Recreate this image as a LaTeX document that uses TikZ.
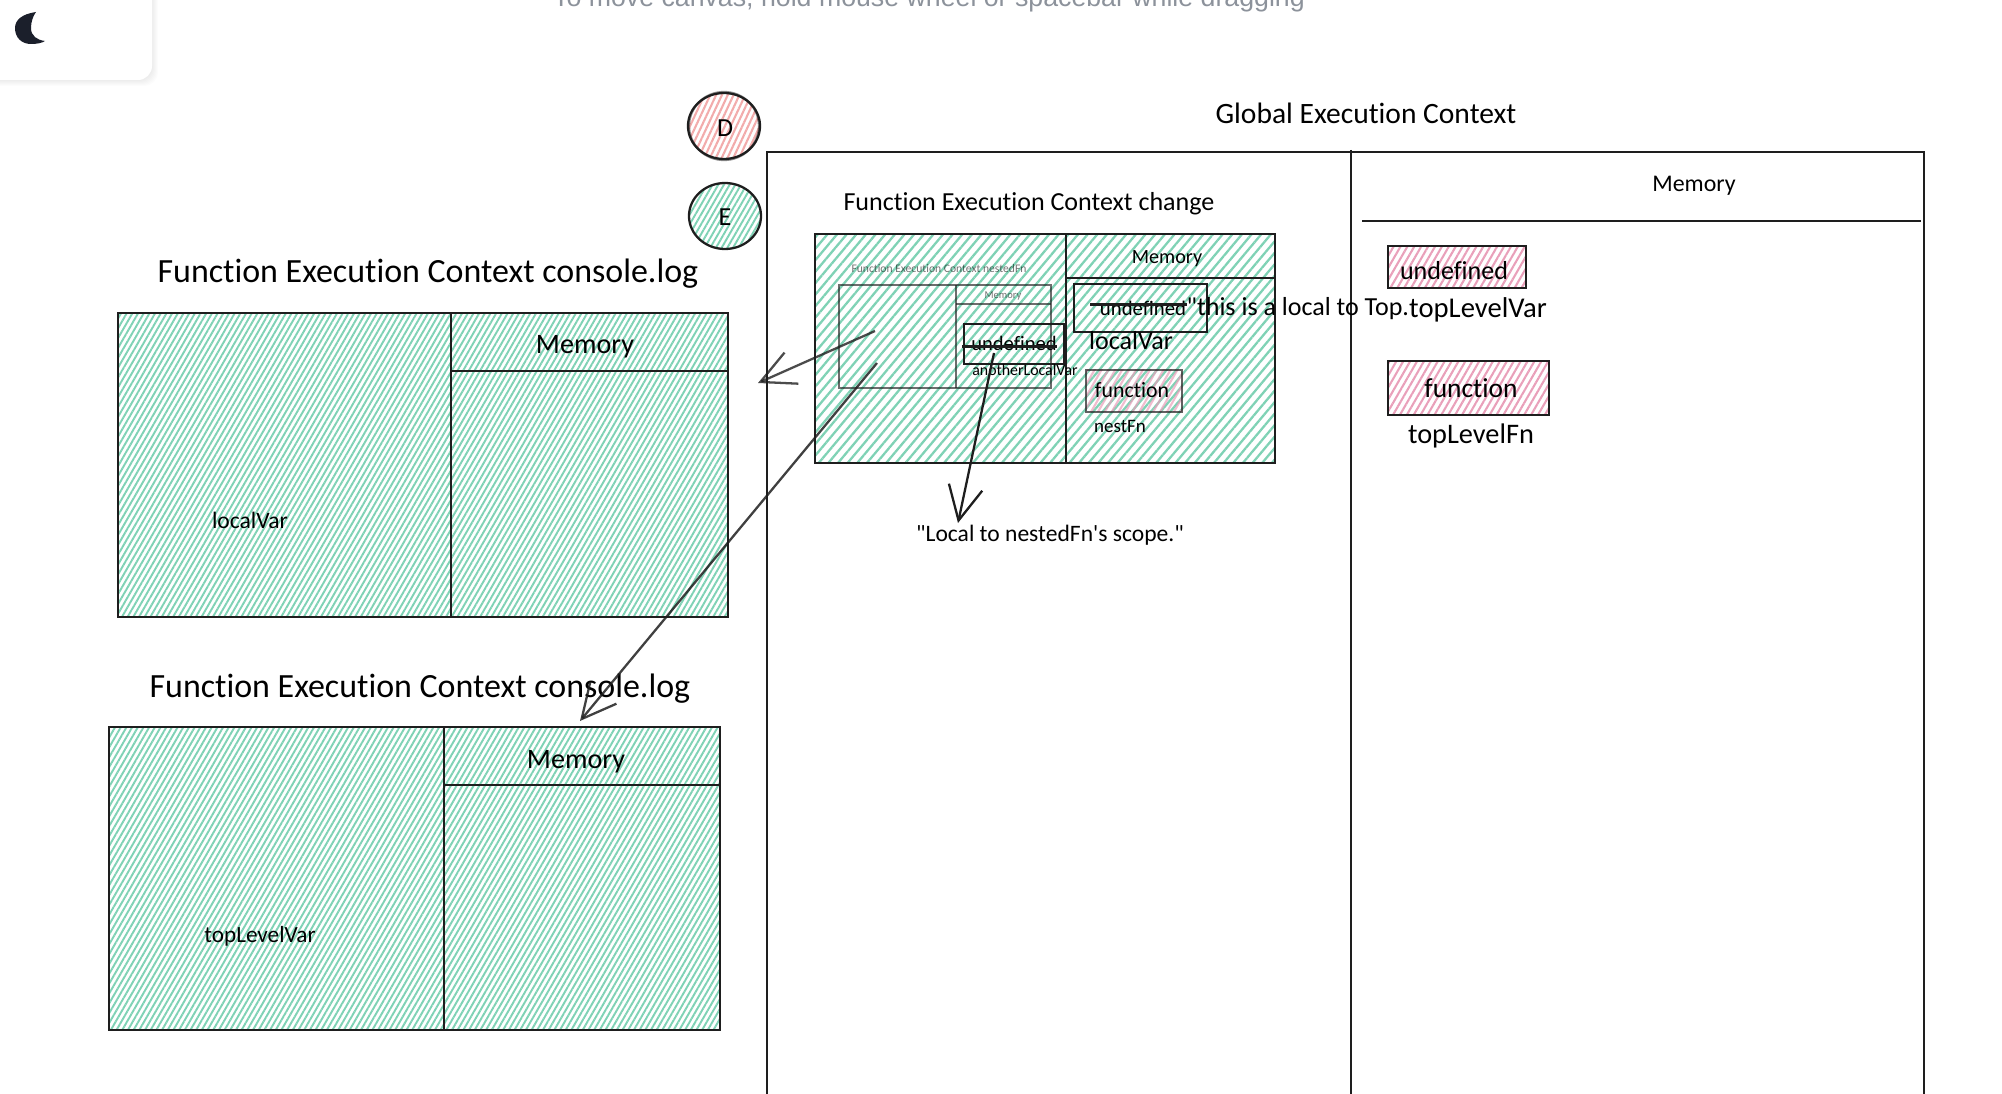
\documentclass[tikz,border=0pt]{standalone}
\usepackage{xcolor}
\usepackage{fontspec}
\setmainfont{Carlito}[Ligatures={TeXOff,NoCommon}]
\newfontfamily\uifont{Liberation Sans}
\usetikzlibrary{patterns.meta,arrows.meta}

\definecolor{mintline}{HTML}{7FD2B5}
\definecolor{pinkline}{HTML}{E9A0BA}
\definecolor{redline}{HTML}{F2ABAB}
\definecolor{inkline}{HTML}{1E1E1E}
\definecolor{moonink}{HTML}{1B1F2B}
\definecolor{hintgray}{HTML}{8C929B}

\newcommand{\handsize}[1]{\fontsize{#1}{9}\selectfont}

\tikzset{
    >={Straight Barb[length=3.4mm,width=3.4mm]},
    ink/.style={draw=inkline,line width=0.65pt},
    minthatch/.style={pattern={Lines[angle=60,distance=1.4pt,line width=0.55pt]},pattern color=mintline},
    widehatch/.style={pattern={Lines[angle=50,distance=2.1pt,line width=0.65pt]},pattern color=mintline},
    pinkhatch/.style={pattern={Lines[angle=60,distance=1.7pt,line width=0.6pt]},pattern color=pinkline},
    redhatch/.style={pattern={Lines[angle=65,distance=1.5pt,line width=0.6pt]},pattern color=redline},
    hand/.style={inner sep=0pt,text=black,font=\handsize{7.4}},
    handbig/.style={hand,font=\handsize{9.65}},
    handsmall/.style={hand,font=\handsize{5.4}},
    handtiny/.style={hand,font=\handsize{3.3},opacity=0.55},
}

\begin{document}
\begin{tikzpicture}[x=0.01cm,y=-0.01cm]

    \useasboundingbox (0,0) rectangle (2002,1094);
    \clip (0,0) rectangle (2002,1094);

    % top bar
    \foreach \s in {1,...,6}
        \fill[black,opacity=0.012,rounded corners=4] (-30,-30) rectangle (152+\s,80+\s);
    \fill[white,rounded corners=4] (-30,-30) rectangle (152,80);
    \fill[moonink] (36,12) .. controls (22,14) and (15,20) .. (15,28) .. controls (15,38) and (22,44) .. (31,44)
        .. controls (37,44) and (42,43) .. (45,41) .. controls (37,40) and (31,36) .. (31,28)
        .. controls (31,22) and (33,16) .. (36,12);
    \node[anchor=base,text=hintgray,inner sep=0pt,font=\uifont\fontsize{7.6}{9}\selectfont] (hint) at (929,7) {To move canvas, hold mouse wheel or spacebar while dragging};

    % legend circles
    \draw[ink,redhatch] (724,126) ellipse (36 and 33);
    \draw[ink,draw opacity=0.5] (724,126) ellipse (35 and 34);
    \node[hand] (circleD) at (725,128) {D};
    \draw[ink,minthatch] (725,216) ellipse (36 and 33);
    \node[hand] (circleE) at (725,217) {E};

    % first console.log context
    \node[handbig] (titleLogA) at (428,274) {Function Execution Context console.log};
    \draw[ink,minthatch] (118,313) rectangle (728,617);
    \draw[ink] (451,313) -- (451,617);
    \draw[ink] (451,371) -- (728,371);
    \node[hand,font=\handsize{8}] (memoryLogA) at (585,347) {Memory};
    \node[hand,font=\handsize{6.7}] (labelLocal) at (250,520) {localVar};

    % second console.log context
    \node[handbig] (titleLogB) at (420,689) {Function Execution Context console.log};
    \draw[ink,minthatch] (109,727) rectangle (720,1030);
    \draw[ink] (444,727) -- (444,1030);
    \draw[ink] (444,785) -- (720,785);
    \node[hand,font=\handsize{8}] (memoryLogB) at (576,762) {Memory};
    \node[hand,font=\handsize{6.6}] (labelTop) at (260,936) {topLevelVar};

    % global context
    \node[hand,font=\handsize{8.4}] (titleGlobal) at (1366,113) {Global Execution Context};
    \draw[ink] (767,1100) -- (767,152) -- (1924,152) -- (1924,1100);
    \draw[ink] (1351,150) -- (1351,1100);
    \draw[ink] (1362,221) -- (1921,221);
    \node[hand,font=\handsize{6.8}] (memoryGlobal) at (1694,186) {Memory};

    \draw[ink,pinkhatch] (1388,246) rectangle (1526,288);
    \node[hand] (valueVar) at (1454,271) {undefined};
    \node[hand,font=\handsize{8.15}] (labelVar) at (1478,310) {topLevelVar};
    \draw[ink,pinkhatch] (1388,361) rectangle (1549,415);
    \node[hand,font=\handsize{7.8}] (valueFn) at (1471,388) {function};
    \node[hand,font=\handsize{8.05}] (labelFn) at (1471,436) {topLevelFn};

    % function context in the middle
    \node[hand] (titleChange) at (1029,204) {Function Execution Context change};
    \draw[ink,widehatch] (815,234) rectangle (1275,463);
    \draw[ink] (1066,234) -- (1066,463);
    \draw[ink] (1066,278) -- (1275,278);
    \node[hand,font=\handsize{5.75}] (memoryChange) at (1167,259) {Memory};

    \draw[ink] (1074,284) rectangle (1207,332);
    \node[hand,font=\handsize{5.9}] (valueLocal) at (1143,308) {undefined};
    \draw[ink] ([xshift=-2.5pt,yshift=1pt]valueLocal.west) -- ([yshift=1pt]valueLocal.east);
    \node[hand,anchor=west] (noteLocal) at (1186,309) {"this is a local to Top.};
    \node[hand] (labelChange) at (1131,341) {localVar};
    \draw[ink,pinkhatch,draw opacity=0.7] (1086,370) rectangle (1182,412);
    \node[hand,font=\handsize{6.2}] (valueNest) at (1132,390) {function};
    \node[handsmall] (labelNest) at (1120,426) {nestFn};

    % nested context, faded
    \node[handtiny] (titleNested) at (939,269) {Function Execution Context nestedFn};
    \begin{scope}[draw opacity=0.65]
        \draw[ink] (839,285) rectangle (1051,388);
        \draw[ink] (956,285) -- (956,388);
        \draw[ink] (956,304) -- (1051,304);
    \end{scope}
    \node[handtiny,font=\handsize{3}] (memoryNested) at (1003,296) {Memory};
    \draw[ink] (964,324) rectangle (1064,364);
    \node[hand,font=\handsize{5.85}] (valueNested) at (1014,343) {undefined};
    \draw[ink] ([xshift=-2.5pt,yshift=-1pt]valueNested.west) -- ([yshift=-1pt]valueNested.east);
    \node[hand,font=\handsize{4.5}] (labelNested) at (1025,370) {anotherLocalVar};

    \node[hand,font=\handsize{6.7}] (noteScope) at (1050,535) {"Local to nestedFn's scope."};

    % arrows
    \coordinate (fromLogA) at (875,331);
    \coordinate (toLogA) at (758,383);
    \coordinate (fromLogB) at (877,363);
    \coordinate (toLogB) at (580,721);
    \coordinate (fromScope) at (994,353);
    \coordinate (toScope) at (958,523);
    \draw[->,ink,draw opacity=0.8] (fromLogA) -- (toLogA);
    \draw[->,ink,draw opacity=0.85] (fromLogB) -- (toLogB);
    \draw[->,ink] (fromScope) -- (toScope);

\end{tikzpicture}
\end{document}
